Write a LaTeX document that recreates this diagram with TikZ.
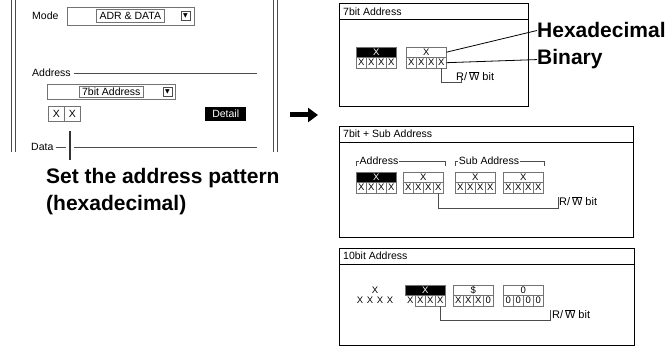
\documentclass[tikz,border=0pt]{standalone}
\usepackage{fontspec}
\setmainfont{Liberation Sans}
\newfontfamily\symfont{DejaVu Sans}
\usetikzlibrary{arrows.meta}

\begin{document}
\begin{tikzpicture}[x=1pt, y=-1pt, font=\fontsize{10.5}{12}\selectfont,
    winframe/.style={draw, line width=0.8pt, inner sep=0pt, anchor=north west},
    uibox/.style={draw=black!55, line width=0.6pt, inner sep=0pt, anchor=north west},
    btn/.style={draw=black!70, line width=0.6pt, minimum width=9pt, minimum height=9pt, inner sep=0pt, font=\symfont\fontsize{6}{6}\selectfont},
    hibyte/.style={draw=black!55, fill=black, text=white, minimum width=40pt, minimum height=10pt, inner sep=0pt, anchor=north west, font=\fontsize{9.5}{10}\selectfont},
    lobyte/.style={draw=black!55, fill=white, minimum width=40pt, minimum height=10pt, inner sep=0pt, anchor=north west, font=\fontsize{9.5}{10}\selectfont},
    bitcell/.style={draw=black!55, minimum width=10pt, minimum height=11pt, inner sep=0pt, anchor=north west, font=\fontsize{9.5}{10}\selectfont},
    freebit/.style={minimum width=10pt, minimum height=10pt, inner sep=0pt, font=\fontsize{9.5}{10}\selectfont},
    notetext/.style={font=\bfseries\fontsize{21}{27}\selectfont, inner sep=0pt},
    ptitle/.style={anchor=west, inner sep=0pt},
    grplbl/.style={fill=white, inner sep=1pt},
    bracket/.style={draw=black!70, line width=0.5pt},
    rwlbl/.style={anchor=west, inner sep=0pt, font=\fontsize{11}{12}\selectfont}]

  \useasboundingbox (0,0) rectangle (669,347);

  % settings screen on the left
  \draw[black!70, line width=0.6pt] (11,0) -- (11,152) (15,0) -- (15,152) (273,0) -- (273,152) (277,0) -- (277,152);
  \node[anchor=west, inner sep=0pt] (mode) at (32,16) {Mode};
  \node[uibox, minimum width=127pt, minimum height=18pt] (modebox) at (67,7) {};
  \node[uibox, minimum width=68pt, minimum height=13pt] (modeval) at (96,9) {ADR \& DATA};
  \node[btn] (modebtn) at (185.5,16) {▼};

  \node[anchor=west, inner sep=0pt] (addr) at (32,73) {Address};
  \draw[black!70] ([xshift=3pt]addr.east) -- (257,73);
  \node[uibox, minimum width=128pt, minimum height=15pt] (sizebox) at (47,84) {};
  \node[uibox, minimum width=64pt, minimum height=11pt] (sizeval) at (79,86) {7bit Address};
  \node[btn] (sizebtn) at (167.5,91.5) {▼};
  \node[uibox, minimum width=16pt, minimum height=15pt] (pat1) at (48,106) {X};
  \node[uibox, minimum width=16pt, minimum height=15pt] (pat2) at (64,106) {X};
  \node[fill=black, text=white, minimum width=41pt, minimum height=14pt, inner sep=0pt, anchor=north west] (detail) at (205,107) {Detail};

  \node[anchor=west, inner sep=0pt] (data) at (31,147) {Data};
  \draw[black!70] ([xshift=2pt]data.east) -- (66,147);
  \draw[black!70] (74,147) -- (257,147);
  \coordinate (curtop) at (70,131);
  \coordinate (curbot) at (70,160);
  \draw[black!80, line width=1.2pt] (curtop) -- (curbot);
  \node[notetext, anchor=north west, align=left] (note) at (46,168) {Set the address pattern\\(hexadecimal)};

  % arrow to the detail windows
  \coordinate (arrtail) at (290,115);
  \coordinate (arrhead) at (318,115);
  \draw[line width=5pt, -{Triangle[length=10pt, width=14pt]}] (arrtail) -- (arrhead);

  % 7bit address
  \node[winframe, minimum width=189pt, minimum height=103pt] (win1) at (339,3) {};
  \draw[line width=0.8pt] ([yshift=-16pt]win1.north west) -- ([yshift=-16pt]win1.north east);
  \node[ptitle] (t1) at (343,11.5) {7bit Address};
  \node[hibyte] (a1) at (356,47) {X};
  \foreach \i in {0,...,3} \node[bitcell] (a1-\i) at (356+10*\i,57) {X};
  \node[lobyte] (a2) at (406,47) {X};
  \foreach \i in {0,...,3} \node[bitcell] (a2-\i) at (406+10*\i,57) {X};
  \node[rwlbl] (rw1) at (456,76) {R/\,$\overline{\mbox{W}}$ bit};
  \draw[bracket] (a2-3.south) |- (461,82) -- (461,79);
  \node[notetext, anchor=base west] (hex) at (537,38) {Hexadecimal};
  \node[notetext, anchor=base west] (bin) at (537,65) {Binary};
  \draw[line width=0.8pt] (a2.east) -- (hex.west);
  \draw[line width=0.8pt] (a2-3.east) -- (bin.west);

  % 7bit + sub address
  \node[winframe, minimum width=294pt, minimum height=111pt] (win2) at (339,126) {};
  \draw[line width=0.8pt] ([yshift=-16pt]win2.north west) -- ([yshift=-16pt]win2.north east);
  \node[ptitle] (t2) at (343,134) {7bit + Sub Address};
  \draw[bracket] (356,166) |- (445,161) -- (445,166);
  \node[grplbl] (grpaddr) at (379,161) {Address};
  \draw[bracket] (455,166) |- (544,161) -- (544,166);
  \node[grplbl] (grpsub) at (489,161) {Sub Address};
  \foreach \n/\bx/\sty in {1/356/hibyte, 2/403/lobyte, 3/455/lobyte, 4/503/lobyte} {
    \node[\sty] (s\n) at (\bx,172) {X};
    \foreach \i in {0,...,3} \node[bitcell] (s\n-\i) at (\bx+10*\i,182) {X};
  }
  \node[rwlbl] (rw2) at (559,201) {R/\,$\overline{\mbox{W}}$ bit};
  \draw[bracket] (s2-3.south) |- (558,208) -- (558,197);

  % 10bit address
  \node[winframe, minimum width=295pt, minimum height=97pt] (win3) at (339,248) {};
  \draw[line width=0.8pt] ([yshift=-16pt]win3.north west) -- ([yshift=-16pt]win3.north east);
  \node[ptitle] (t3) at (343,256) {10bit Address};
  \node[freebit] (hx) at (375,290) {X};
  \foreach \i in {0,...,3} \node[freebit] (bx-\i) at (360+10*\i,300.5) {X};
  \node[hibyte] (d1) at (405,285) {X};
  \node[freebit, anchor=north west, minimum height=11pt] (d1-0) at (405,295) {X};
  \foreach \i in {1,2,3} \node[bitcell] (d1-\i) at (405+10*\i,295) {X};
  \node[lobyte] (d2) at (453,285) {\$};
  \foreach \i/\b in {0/X,1/X,2/X,3/0} \node[bitcell] (d2-\i) at (453+10*\i,295) {\b};
  \node[lobyte] (d3) at (503,285) {0};
  \foreach \i in {0,...,3} \node[bitcell] (d3-\i) at (503+10*\i,295) {0};
  \node[rwlbl] (rw3) at (552,314) {R/\,$\overline{\mbox{W}}$ bit};
  \draw[bracket] (d1-3.south) |- (550,320) -- (550,310);
\end{tikzpicture}
\end{document}
